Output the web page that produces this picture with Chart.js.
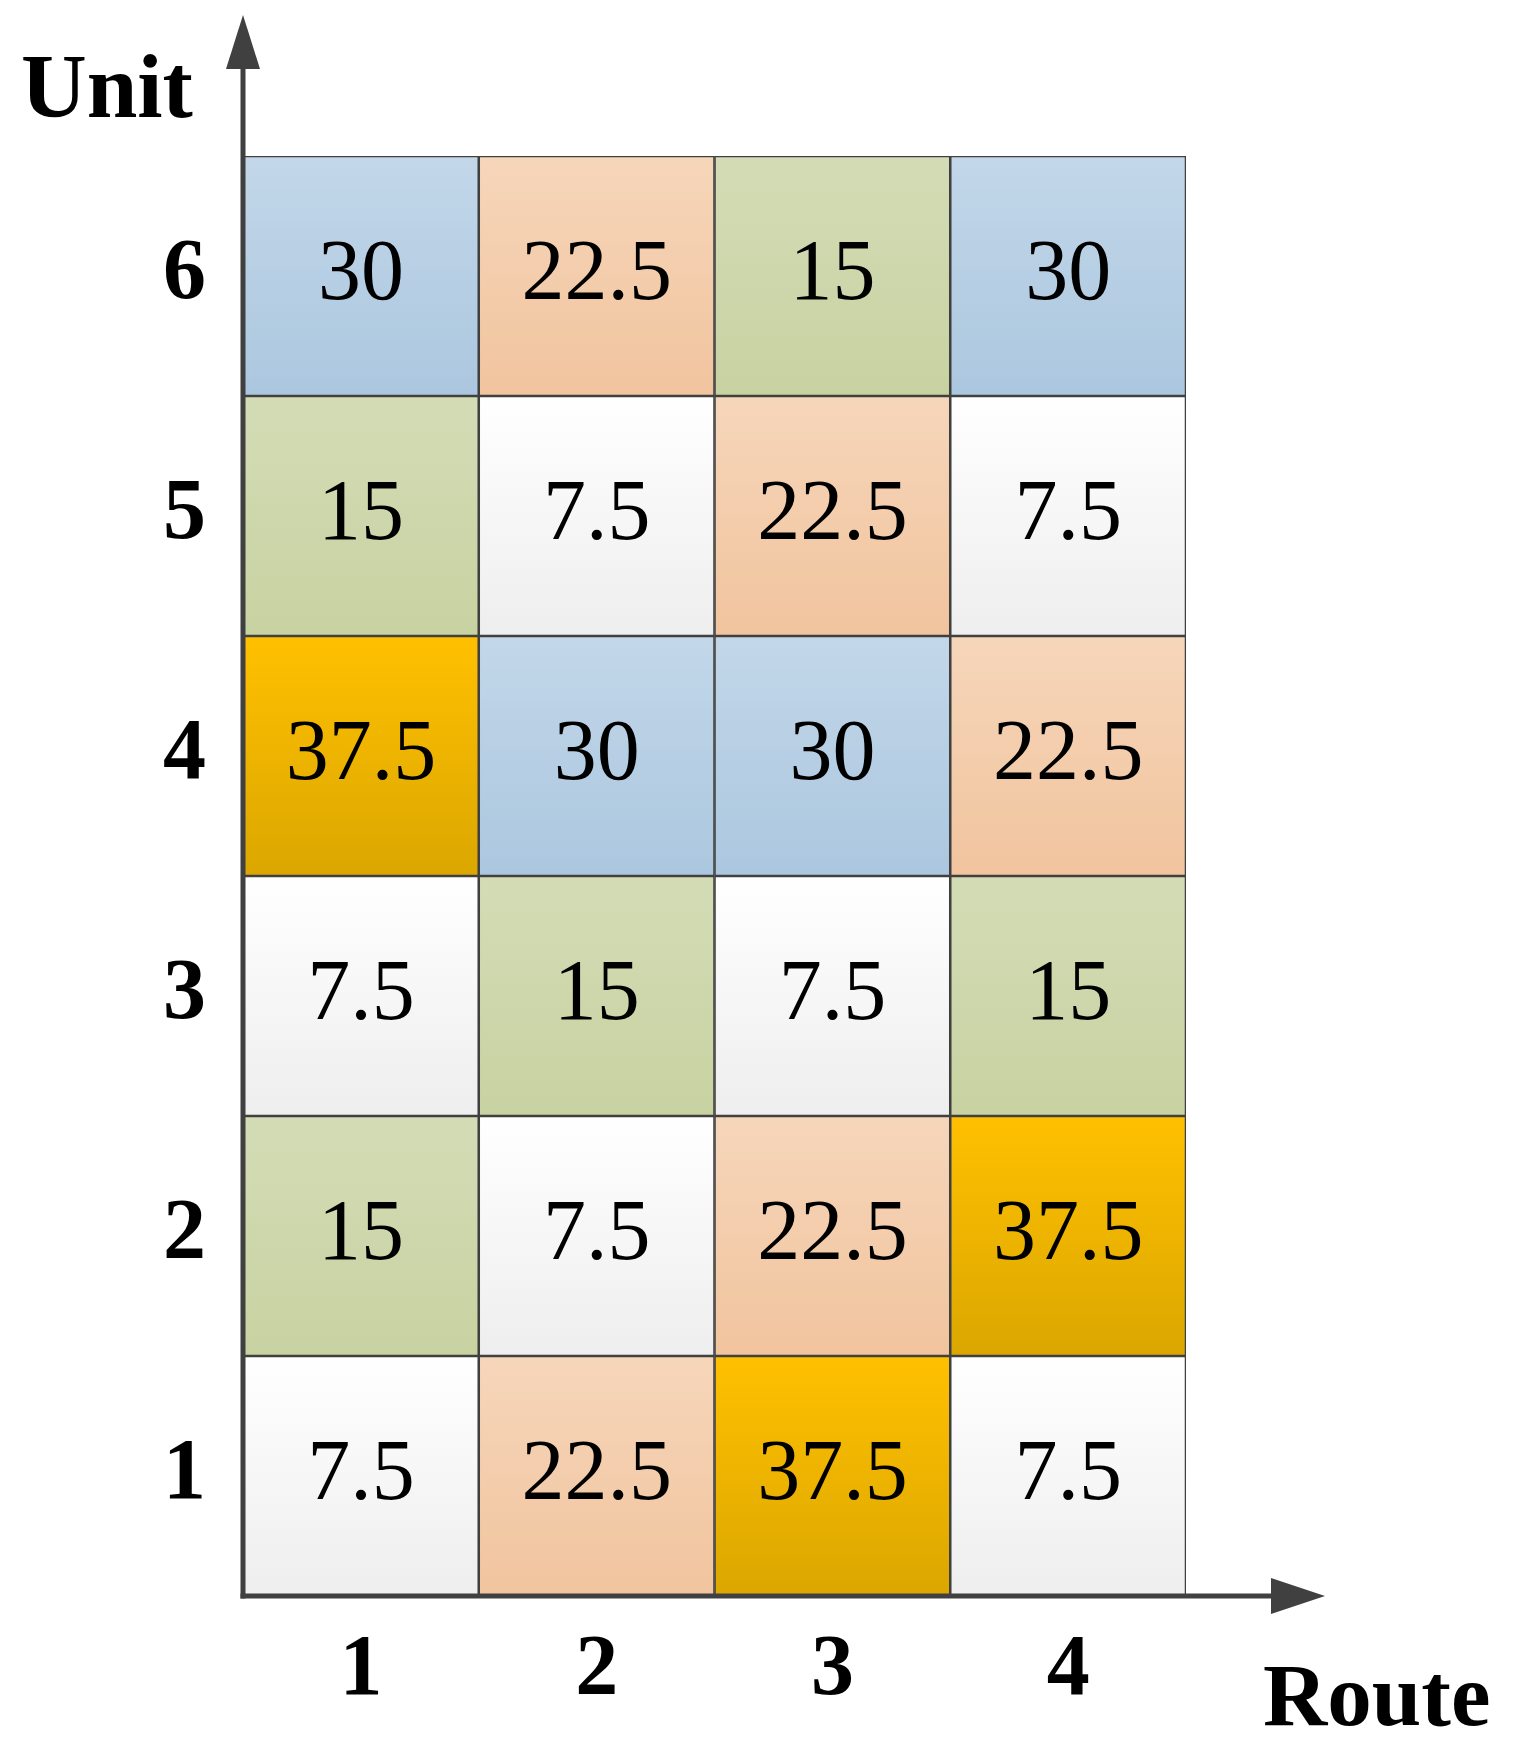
<!DOCTYPE html>
<html>
<head>
<meta charset="utf-8">
<script src="https://cdn.jsdelivr.net/npm/chart.js@4/dist/chart.umd.min.js"></script>
<style>
    body { margin: 0; background: #ffffff; }
    #wrap { width: 1514px; height: 1751px; }
</style>
</head>
<body>
<div id="wrap"><canvas id="grid" width="1514" height="1751"></canvas></div>
<script>
// Chart data
const routes = ["1", "2", "3", "4"];
const units = ["1", "2", "3", "4", "5", "6"];
const unit1 = [7.5, 22.5, 37.5, 7.5];
const unit2 = [15, 7.5, 22.5, 37.5];
const unit3 = [7.5, 15, 7.5, 15];
const unit4 = [37.5, 30, 30, 22.5];
const unit5 = [15, 7.5, 22.5, 7.5];
const unit6 = [30, 22.5, 15, 30];
const rows = [unit1, unit2, unit3, unit4, unit5, unit6];

// Fill colours per value (top, bottom of the gradient)
const palette = {
    7.5: ["#ffffff", "#eeeeee"],
    15: ["#d4dcb6", "#c8d2a1"],
    22.5: ["#f6d6ba", "#f1c49e"],
    30: ["#c3d7e9", "#abc7df"],
    37.5: ["#ffc000", "#dba700"]
};

const SERIF = "'Liberation Serif', 'Times New Roman', serif";
const AXIS = "#404040";

function cellFill(context) {
    const chart = context.chart;
    const { chartArea, scales } = chart;
    if (!chartArea) return null;
    const v = rows[context.datasetIndex][context.dataIndex];
    const top = scales.y.getPixelForValue(context.datasetIndex + 1);
    const bottom = scales.y.getPixelForValue(context.datasetIndex);
    const g = chart.ctx.createLinearGradient(0, top, 0, bottom);
    g.addColorStop(0, palette[v][0]);
    g.addColorStop(1, palette[v][1]);
    return g;
}

// Cell value labels
const cellLabels = {
    id: "cellLabels",
    afterDatasetsDraw(chart) {
        const ctx = chart.ctx;
        ctx.save();
        ctx.fillStyle = "#000000";
        ctx.font = "86px " + SERIF;
        ctx.textAlign = "center";
        ctx.textBaseline = "middle";
        chart.data.datasets.forEach((ds, di) => {
            chart.getDatasetMeta(di).data.forEach((bar, i) => {
                ctx.fillText(String(rows[di][i]), bar.x, (bar.y + bar.base) / 2);
            });
        });
        ctx.restore();
    }
};

// Axis lines with arrow heads and the two axis names
const arrowAxes = {
    id: "arrowAxes",
    afterDraw(chart) {
        const ctx = chart.ctx;
        const a = chart.chartArea;
        const x0 = a.left, y0 = a.bottom;
        ctx.save();
        ctx.strokeStyle = AXIS;
        ctx.fillStyle = AXIS;
        ctx.lineWidth = 5;
        ctx.lineCap = "square";
        // y axis
        const yTip = a.top - 141;
        ctx.beginPath();
        ctx.moveTo(x0, y0);
        ctx.lineTo(x0, yTip + 50);
        ctx.stroke();
        ctx.beginPath();
        ctx.moveTo(x0, yTip);
        ctx.lineTo(x0 - 17, yTip + 54);
        ctx.lineTo(x0 + 17, yTip + 54);
        ctx.closePath();
        ctx.fill();
        // x axis
        const xTip = a.right + 139;
        ctx.beginPath();
        ctx.moveTo(x0, y0);
        ctx.lineTo(xTip - 50, y0);
        ctx.stroke();
        ctx.beginPath();
        ctx.moveTo(xTip, y0);
        ctx.lineTo(xTip - 54, y0 - 18);
        ctx.lineTo(xTip - 54, y0 + 18);
        ctx.closePath();
        ctx.fill();
        // axis names
        ctx.fillStyle = "#000000";
        ctx.font = "bold 91px " + SERIF;
        ctx.textAlign = "left";
        ctx.textBaseline = "alphabetic";
        ctx.fillText("Unit", 21, 117);
        ctx.font = "bold 89px " + SERIF;
        ctx.fillText("Route", 1263, 1725);
        ctx.restore();
    }
};

const datasets = units.map((u, i) => ({
    label: "Unit " + u,
    data: routes.map(() => 1),
    backgroundColor: cellFill,
    borderColor: AXIS,
    borderWidth: 1.6,
    borderSkipped: false,
    barPercentage: 1,
    categoryPercentage: 1
}));

new Chart(document.getElementById("grid"), {
    type: "bar",
    data: { labels: routes, datasets: datasets },
    options: {
        responsive: false,
        animation: false,
        layout: { padding: { left: 0, top: 156, right: 328, bottom: 0 } },
        plugins: {
            legend: { display: false },
            tooltip: { enabled: false }
        },
        scales: {
            x: {
                stacked: true,
                grid: { display: false, drawTicks: false },
                border: { display: false },
                ticks: {
                    color: "#000000",
                    padding: 24,
                    font: { family: SERIF, size: 86, weight: "bold" }
                },
                afterFit: scale => { scale.height = 155; }
            },
            y: {
                stacked: true,
                min: 0,
                max: 6,
                grid: { display: false, drawTicks: false },
                border: { display: false },
                afterBuildTicks: scale => {
                    scale.ticks = units.map((u, i) => ({ value: i + 0.5 }));
                },
                ticks: {
                    color: "#000000",
                    padding: 37,
                    font: { family: SERIF, size: 86, weight: "bold" },
                    callback: (value) => units[Math.floor(value)]
                },
                afterFit: scale => { scale.width = 243; }
            }
        }
    },
    plugins: [cellLabels, arrowAxes]
});
</script>
</body>
</html>
